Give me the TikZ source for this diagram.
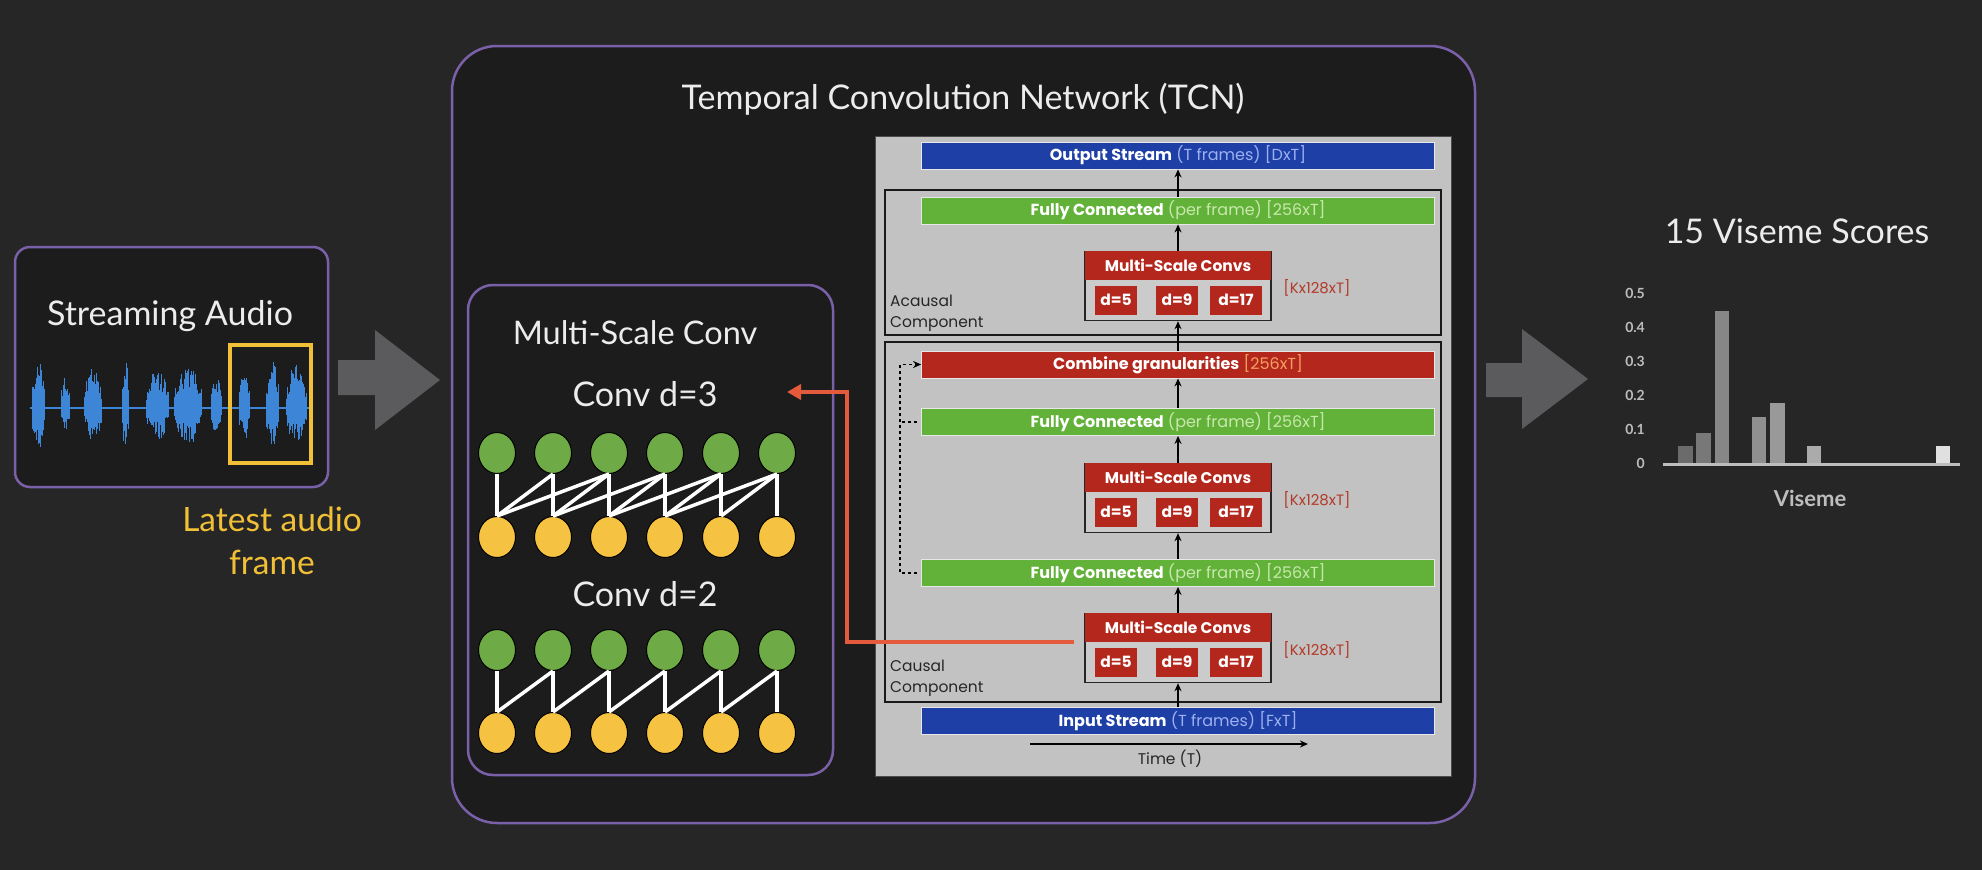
\documentclass[tikz,border=0pt]{standalone}
\usepackage{fontspec}
\setmainfont{Lato}
\newfontfamily\panelfont{Poppins}
\usetikzlibrary{arrows.meta, positioning, shapes.geometric, calc}
\definecolor{mbg}{HTML}{262626}
\definecolor{mbox}{HTML}{1C1C1C}
\definecolor{mpurple}{HTML}{7A60A8}
\definecolor{mtext}{HTML}{ECECEC}
\definecolor{mwave}{HTML}{3D85D6}
\definecolor{myellow}{HTML}{F2C037}
\definecolor{mgreennode}{HTML}{6EAA45}
\definecolor{myellownode}{HTML}{F5C242}
\definecolor{mgrayarrow}{HTML}{5B5B5E}
\definecolor{mredarrow}{HTML}{E35A3C}
\definecolor{mpanel}{HTML}{C2C2C2}
\definecolor{mbarblue}{HTML}{1E3FA6}
\definecolor{mbluetxt}{HTML}{9DB0F0}
\definecolor{mbargreen}{HTML}{62B23A}
\definecolor{mgreentxt}{HTML}{C8E8AC}
\definecolor{mbarred}{HTML}{B3271C}
\definecolor{mredtxt}{HTML}{F5A060}
\definecolor{mklabel}{HTML}{B33A28}
\definecolor{mtick}{HTML}{BDBDBD}
\tikzset{
  slidetxt/.style={text=mtext, font=\fontsize{34}{40}\selectfont, align=center, inner sep=0pt},
  purplebox/.style={draw=mpurple, line width=2.5pt, fill=mbox},
  gcirc/.style={ellipse, draw=black, line width=1pt, fill=mgreennode,
                minimum width=37pt, minimum height=41pt, inner sep=0pt},
  ycirc/.style={ellipse, draw=black, line width=1pt, fill=myellownode,
                minimum width=37pt, minimum height=41pt, inner sep=0pt},
  link/.style={white, line width=3.5pt},
  bar/.style={minimum width=513pt, minimum height=27pt, inner sep=0pt, draw=white!60!mpanel,
              line width=0.8pt, text=white, font=\panelfont\fontsize{16}{17}\selectfont},
  mscbox/.style={draw=black!85, line width=1.2pt, fill=mpanel!85!white,
                 minimum width=186pt, minimum height=69pt, inner sep=0pt},
  mschead/.style={fill=mbarred, text=white, minimum width=186pt, minimum height=29pt,
                  inner sep=0pt, font=\panelfont\bfseries\fontsize{15.5}{17}\selectfont},
  dbox/.style={fill=mbarred, text=white, minimum width=42pt, minimum height=29pt,
               inner sep=0pt, font=\panelfont\bfseries\fontsize{15.5}{17}\selectfont},
}

\begin{document}
\begin{tikzpicture}[x=1pt, y=-1pt,
    every node/.style={inner sep=0pt},
    arr/.style={-{Stealth[length=8pt,width=7pt]}, line width=1.3pt, black},
    darr/.style={-{Stealth[length=8pt,width=7pt]}, dashed, line width=1.3pt, black},
    redarr/.style={-{Triangle[length=14pt,width=15pt]}, line width=4pt, mredarrow},
    compbox/.style={draw=black!90, line width=1.6pt, minimum width=556pt, inner sep=0pt},
    paneltxt/.style={text=black!85, font=\panelfont\fontsize{15.5}{21}\selectfont, align=left},
    klabel/.style={text=mklabel, font=\panelfont\fontsize{15}{17}\selectfont},
    blockarrow/.style={fill=mgrayarrow},
    tick/.style={text=mtick, font=\bfseries\fontsize{14}{16}\selectfont, anchor=east}
  ]

  \path[use as bounding box, fill=mbg] (0,0) rectangle (1982,870);

  % streaming audio
  \node[purplebox, rounded corners=15pt, minimum width=313pt, minimum height=240pt] (audiobox) at (171.5,367) {};
  \node[slidetxt] (audiotitle) at (170,316) {Streaming Audio};
  \pgfmathsetseed{11}
  \draw[mwave, line width=1.5pt] (30,408) -- (313,408);
  \foreach \a/\b/\h in {32/44/52, 61/69/34, 84/101/44, 122/128/54, 146/168/40,
                        174/201/46, 211/221/32, 239/249/40, 266/278/50, 286/306/46} {
    \foreach \x in {\a,...,\b} {
      \pgfmathsetmacro\env{0.35+0.65*sin(180*(\x-\a+1)/(\b-\a+2))}
      \pgfmathsetmacro\up{\h*\env*(0.45+0.55*rnd)}
      \pgfmathsetmacro\dn{\h*\env*(0.35+0.5*rnd)}
      \draw[mwave, line width=1pt] (\x,408-\up) -- (\x,408+\dn);
    }
  }
  \node[draw=myellow, line width=4.5pt, minimum width=81pt, minimum height=118pt] (frame) at (270.5,404) {};
  \node[slidetxt, text=myellow, font=\fontsize{33.5}{43}\selectfont] (latest) at (272,541) {Latest audio\\frame};

  \fill[blockarrow] (338,360) -- (375,360) -- (375,330) -- (440,380) -- (375,430) -- (375,395) -- (338,395) -- cycle;

  % TCN
  \node[purplebox, rounded corners=45pt, minimum width=1023pt, minimum height=777pt] (tcn) at (963.5,434.5) {};
  \node[slidetxt] (tcntitle) at (963,99) {Temporal Convolution Network (TCN)};

  \node[purplebox, rounded corners=25pt, minimum width=365pt, minimum height=490pt] (msconv) at (650.5,530) {};
  \node[slidetxt, font=\fontsize{32.5}{38}\selectfont] (mstitle) at (635,333) {Multi-Scale Conv};
  \node[slidetxt] (dthree) at (645,394) {Conv d=3};
  \node[slidetxt] (dtwo) at (645,594) {Conv d=2};

  \foreach \i in {1,...,6} {
    \pgfmathsetmacro\cx{497+56*(\i-1)}
    \node[gcirc] (gA\i) at (\cx,453) {};
    \node[ycirc] (yA\i) at (\cx,537) {};
    \node[gcirc] (gB\i) at (\cx,650) {};
    \node[ycirc] (yB\i) at (\cx,733) {};
  }
  \foreach \j in {1,...,6} {
    \draw[link] (gA\j.south) -- (yA\j.north);
    \draw[link] (gB\j.south) -- (yB\j.north);
  }
  \foreach \j in {2,...,6} {
    \pgfmathtruncatemacro\i{\j-1}
    \draw[link] (gA\j.south) -- (yA\i.north);
    \draw[link] (gB\j.south) -- (yB\i.north);
  }
  \foreach \j in {3,...,6} {
    \pgfmathtruncatemacro\i{\j-2}
    \draw[link] (gA\j.south) -- (yA\i.north);
  }

  % network panel
  \node[fill=mpanel, draw=black!70, line width=1pt, minimum width=576pt, minimum height=640pt] (panel) at (1163.5,456) {};
  \node[compbox, minimum height=145pt] (acausal) at (1163,262.5) {};
  \node[compbox, minimum height=360pt] (causal) at (1163,522) {};
  \node[paneltxt, anchor=west] (acausallbl) at (890,313) {Acausal\\Component};
  \node[paneltxt, anchor=west] (causallbl) at (890,678) {Causal\\Component};

  \node[bar, fill=mbarblue] (outbar) at (1178,155.5) {\textbf{Output Stream} \textcolor{mbluetxt}{(T frames) [DxT]}};
  \node[bar, fill=mbargreen] (fctop) at (1178,210.5) {\textbf{Fully Connected} \textcolor{mgreentxt}{(per frame) [256xT]}};
  \node[bar, fill=mbarred] (combine) at (1178,364.5) {\textbf{Combine granularities} \textcolor{mredtxt}{[256xT]}};
  \node[bar, fill=mbargreen] (fcmid) at (1178,422) {\textbf{Fully Connected} \textcolor{mgreentxt}{(per frame) [256xT]}};
  \node[bar, fill=mbargreen] (fclow) at (1178,573) {\textbf{Fully Connected} \textcolor{mgreentxt}{(per frame) [256xT]}};
  \node[bar, fill=mbarblue] (inbar) at (1178,721) {\textbf{Input Stream} \textcolor{mbluetxt}{(T frames) [FxT]}};

  \foreach \n/\y in {0/613, 1/463, 2/251} {
    \node[mscbox, anchor=north] (msc\n) at (1178,\y) {};
    \node[mschead, anchor=north] (mschead\n) at (msc\n.north) {Multi-Scale Convs};
    \node[dbox] (dfive\n) at (1116,\y+49) {d=5};
    \node[dbox] (dnine\n) at (1177,\y+49) {d=9};
    \node[dbox, minimum width=52pt] (dseventeen\n) at (1236,\y+49) {d=17};
    \node[klabel] (kdim\n) at (1317,\y+37) {[Kx128xT]};
  }

  \draw[arr] (inbar) -- (msc0);
  \draw[arr] (msc0) -- (fclow);
  \draw[arr] (fclow) -- (msc1);
  \draw[arr] (msc1) -- (fcmid);
  \draw[arr] (fcmid) -- (combine);
  \draw[arr] (combine) -- (msc2);
  \draw[arr] (msc2) -- (fctop);
  \draw[arr] (fctop) -- (outbar);

  \draw[darr, shorten <=4pt] (fclow.west) -- ++(-21,0) |- (combine.west);
  \draw[dashed, line width=1.3pt, shorten <=4pt] (fcmid.west) -- ++(-21,0);

  \coordinate (tstart) at (1030,744);
  \coordinate (tend) at (1308,744);
  \draw[arr] (tstart) -- (tend);
  \node[paneltxt] (timelbl) at (1170,759) {Time (T)};

  \coordinate (redtip) at (787,392);
  \draw[redarr, shorten <=10pt] ([yshift=6pt]msc0.west) -- ++(-237,0) |- (redtip);

  \fill[blockarrow] (1486,363) -- (1522,363) -- (1522,329) -- (1588,379) -- (1522,429) -- (1522,397) -- (1486,397) -- cycle;

  % viseme scores
  \node[slidetxt] (vtitle) at (1797,231) {15 Viseme Scores};
  \foreach \v/\t in {0/0, 1/0.1, 2/0.2, 3/0.3, 4/0.4, 5/0.5} {
    \node[tick] (tick\v) at (1645,463-34*\v) {\t};
  }
  \foreach \s/\v/\c in {0/0.053/42, 1/0.09/47, 2/0.45/53, 4/0.138/56, 5/0.18/60, 7/0.053/67, 14/0.053/88} {
    \fill[white!\c!black] (1678+18.4*\s,464) rectangle ++(14.5,-340*\v);
  }
  \draw[mtick, line width=3pt] (1663,464) -- (1960,464);
  \node[text=mtick, font=\bfseries\fontsize{22}{26}\selectfont] (vlabel) at (1810,498) {Viseme};

\end{tikzpicture}
\end{document}
